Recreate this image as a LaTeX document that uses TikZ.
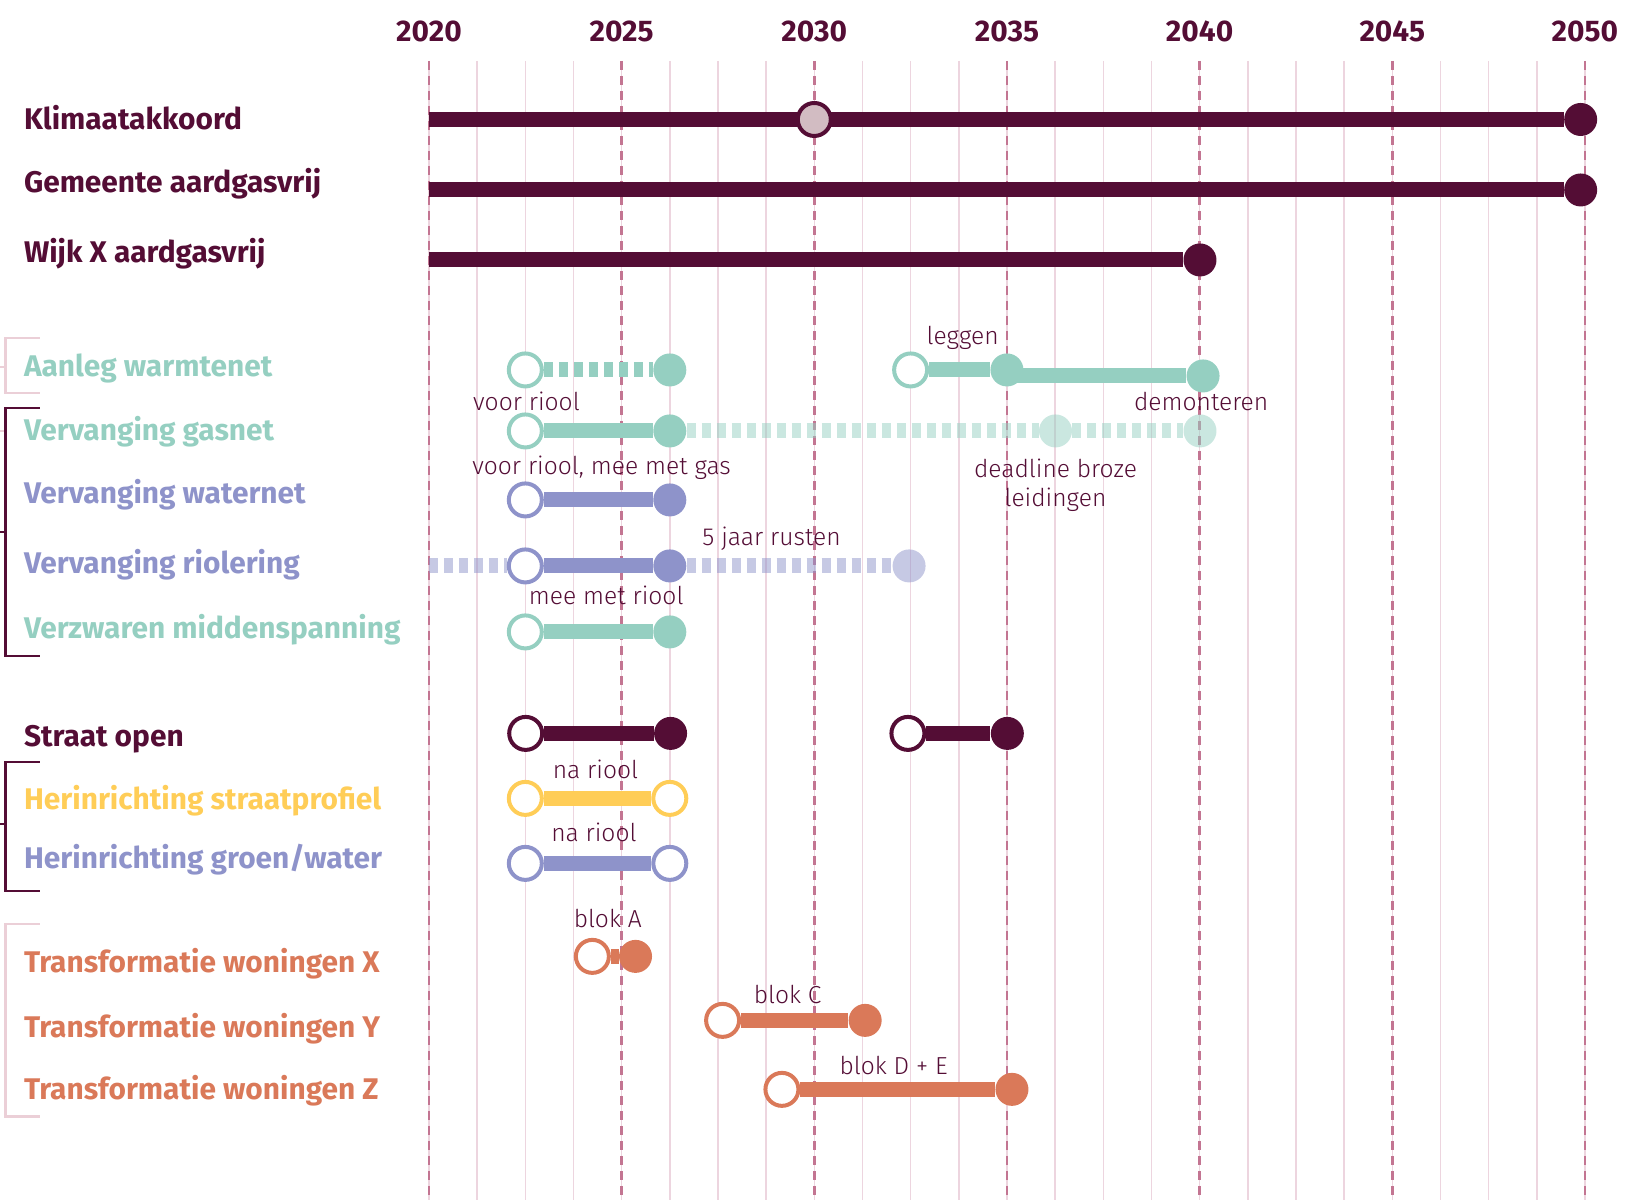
\documentclass[tikz,border=0pt]{standalone}
\usepackage{fontspec}
\setmainfont{Fira Sans}
\newfontfamily\notefont{Fira Sans Light}
\usetikzlibrary{positioning}
\definecolor{plum}{HTML}{540D35}
\definecolor{teal}{HTML}{95CFC1}
\definecolor{lav}{HTML}{8E93CA}
\definecolor{yel}{HTML}{FFCD57}
\definecolor{ora}{HTML}{DA7959}
\definecolor{gridminor}{HTML}{EDD5DF}
\definecolor{gridmajor}{HTML}{C37592}
\definecolor{brklight}{HTML}{EBCFD7}
\definecolor{klimdot}{HTML}{D2BCC2}

\begin{document}
\begin{tikzpicture}[x=0.7707cm, y=1cm,
  lbl/.style={anchor=base west, inner sep=0pt, font=\fontsize{17}{20}\selectfont\bfseries},
  yr/.style={anchor=base, inner sep=0pt, text=plum, font=\fontsize{17}{20}\selectfont\bfseries},
  note/.style={anchor=base, inner sep=0pt, text=plum, align=center, font=\fontsize{14}{16.5}\selectfont\notefont},
  dot/.style={circle, fill=#1, minimum size=0.66cm, inner sep=0pt},
  ring/.style={circle, draw=#1, fill=white, line width=0.08cm, minimum size=0.66cm, inner sep=0pt},
  bar/.style={draw=#1, line width=0.3cm},
  dbar/.style={draw=#1, line width=0.3cm, dash pattern=on 0.18cm off 0.12cm},
  brk/.style={line width=0.055cm}]
\useasboundingbox (-11.134,0) rectangle (31.456,-24);

% grid and years
\foreach \i in {0,...,24}
  \draw[gridminor, line width=0.03cm] (\i*1.25,-1.22) -- (\i*1.25,-24);
\foreach \y in {0,5,...,30} {
  \pgfmathtruncatemacro\yy{2020+\y}
  \draw[gridmajor, line width=0.055cm, dash pattern=on 0.18cm off 0.12cm] (\y,-1.22) -- (\y,-24);
  \node[yr] (yr\yy) at (\y,-0.834) {\yy};
}

% brackets
\draw[brk, brklight] (-10.10,-6.76) -| (-11.0,-7.86) -- (-10.10,-7.86);
\draw[brk, brklight] (-11.0,-7.34) -- (-11.134,-7.34);
\draw[brk, brklight] (-11.0,-8.62) -- (-11.134,-8.62);
\draw[brk, plum] (-10.10,-8.16) -| (-11.0,-13.12) -- (-10.10,-13.12);
\draw[brk, plum] (-11.0,-10.64) -- (-11.134,-10.64);
\draw[brk, plum] (-10.10,-15.24) -| (-11.0,-17.82) -- (-10.10,-17.82);
\draw[brk, plum] (-11.0,-16.48) -- (-11.134,-16.48);
\draw[brk, brklight] (-10.10,-18.48) -| (-11.0,-22.34) -- (-10.10,-22.34);

% labels
\node[lbl, text=plum] (klim) at (-10.52,-2.586) {Klimaatakkoord};
\node[lbl, text=plum] (gem) at (-10.52,-3.854) {Gemeente aardgasvrij};
\node[lbl, text=plum] (wijk) at (-10.52,-5.254) {Wijk X aardgasvrij};
\node[lbl, text=teal] (warm) at (-10.52,-7.53) {Aanleg warmtenet};
\node[lbl, text=teal] (gas) at (-10.52,-8.81) {Vervanging gasnet};
\node[lbl, text=lav] (water) at (-10.52,-10.08) {Vervanging waternet};
\node[lbl, text=lav] (riool) at (-10.52,-11.47) {Vervanging riolering};
\node[lbl, text=teal] (midden) at (-10.52,-12.77) {Verzwaren middenspanning};
\node[lbl, text=plum] (straat) at (-10.52,-14.93) {Straat open};
\node[lbl, text=yel] (profiel) at (-10.52,-16.20) {Herinrichting straatprofiel};
\node[lbl, text=lav] (groen) at (-10.52,-17.37) {Herinrichting groen/water};
\node[lbl, text=ora] (transx) at (-10.52,-19.45) {Transformatie woningen X};
\node[lbl, text=ora] (transy) at (-10.52,-20.75) {Transformatie woningen Y};
\node[lbl, text=ora] (transz) at (-10.52,-21.99) {Transformatie woningen Z};

% klimaatakkoord, gemeente, wijk
\coordinate (kl0) at (0,-2.39);
\node[dot=plum] (kl2) at (29.89,-2.39) {};
\draw[bar=plum] (kl0) -- (kl2);
\node[ring=plum, fill=klimdot] (kl1) at (10,-2.39) {};
\coordinate (gm0) at (0,-3.80);
\node[dot=plum] (gm1) at (29.89,-3.80) {};
\draw[bar=plum] (gm0) -- (gm1);
\coordinate (wx0) at (0,-5.20);
\node[dot=plum] (wx1) at (20.01,-5.20) {};
\draw[bar=plum] (wx0) -- (wx1);

% warmtenet
\node[ring=teal] (wn1) at (2.5,-7.40) {};
\node[dot=teal] (wn2) at (6.25,-7.40) {};
\draw[dbar=teal] (wn1) -- (wn2);
\node[ring=teal] (wn3) at (12.5,-7.40) {};
\node[dot=teal] (wn5) at (20.09,-7.52) {};
\coordinate (wn45) at (15,-7.52);
\draw[bar=teal] (wn45) -- (wn5);
\node[dot=teal] (wn4) at (15,-7.40) {};
\draw[bar=teal] (wn3) -- (wn4);
\node[note] (leggen) at (13.85,-6.90) {leggen};

% gasnet
\node[ring=teal] (gs1) at (2.5,-8.62) {};
\node[dot=teal] (gs2) at (6.25,-8.62) {};
\node[dot=teal, opacity=0.5] (gs3) at (16.26,-8.62) {};
\node[dot=teal, opacity=0.5] (gs4) at (20.01,-8.62) {};
\draw[bar=teal] (gs1) -- (gs2);
\draw[dbar=teal, opacity=0.5] (gs2) -- (gs3);
\draw[dbar=teal, opacity=0.5] (gs3) -- (gs4);
\node[note] (voor) at (2.53,-8.21) {voor riool};
\node[note] (demont) at (20.04,-8.21) {demonteren};
\node[note] (broze) at (16.26,-10.14) {deadline broze\\leidingen};

% waternet
\node[ring=lav] (wt1) at (2.5,-10.00) {};
\node[dot=lav] (wt2) at (6.25,-10.00) {};
\draw[bar=lav] (wt1) -- (wt2);
\node[note] (voorgas) at (4.48,-9.50) {voor riool, mee met gas};

% riolering
\coordinate (ri0) at (0,-11.32);
\node[ring=lav] (ri1) at (2.5,-11.32) {};
\node[dot=lav] (ri2) at (6.25,-11.32) {};
\node[dot=lav, opacity=0.5] (ri3) at (12.46,-11.32) {};
\draw[dbar=lav, opacity=0.5] (ri0) -- (ri1);
\draw[bar=lav] (ri1) -- (ri2);
\draw[dbar=lav, opacity=0.5] (ri2) -- (ri3);
\node[note] (rusten) at (8.89,-10.92) {5 jaar rusten};

% middenspanning
\node[ring=teal] (mv1) at (2.5,-12.64) {};
\node[dot=teal] (mv2) at (6.25,-12.64) {};
\draw[bar=teal] (mv1) -- (mv2);
\node[note] (meeriool) at (4.6,-12.10) {mee met riool};

% straat open
\node[ring=plum] (so1) at (2.51,-14.67) {};
\node[dot=plum] (so2) at (6.27,-14.67) {};
\draw[bar=plum] (so1) -- (so2);
\node[ring=plum] (so3) at (12.43,-14.67) {};
\node[dot=plum] (so4) at (15.01,-14.67) {};
\draw[bar=plum] (so3) -- (so4);

% herinrichting
\node[ring=yel] (sp1) at (2.5,-15.97) {};
\node[ring=yel] (sp2) at (6.25,-15.97) {};
\draw[bar=yel] (sp1) -- (sp2);
\node[note] (nariool1) at (4.32,-15.57) {na riool};
\node[ring=lav] (gw1) at (2.5,-17.27) {};
\node[ring=lav] (gw2) at (6.25,-17.27) {};
\draw[bar=lav] (gw1) -- (gw2);
\node[note] (nariool2) at (4.28,-16.83) {na riool};

% transformatie
\node[ring=ora] (tx1) at (4.24,-19.13) {};
\node[dot=ora] (tx2) at (5.36,-19.13) {};
\draw[bar=ora] (tx1) -- (tx2);
\node[note] (bloka) at (4.64,-18.56) {blok A};
\node[ring=ora] (ty1) at (7.62,-20.41) {};
\node[dot=ora] (ty2) at (11.32,-20.41) {};
\draw[bar=ora] (ty1) -- (ty2);
\node[note] (blokc) at (9.31,-20.08) {blok C};
\node[ring=ora] (tz1) at (9.16,-21.79) {};
\node[dot=ora] (tz2) at (15.13,-21.79) {};
\draw[bar=ora] (tz1) -- (tz2);
\node[note] (blokde) at (12.06,-21.50) {blok D + E};
\end{tikzpicture}
\end{document}
